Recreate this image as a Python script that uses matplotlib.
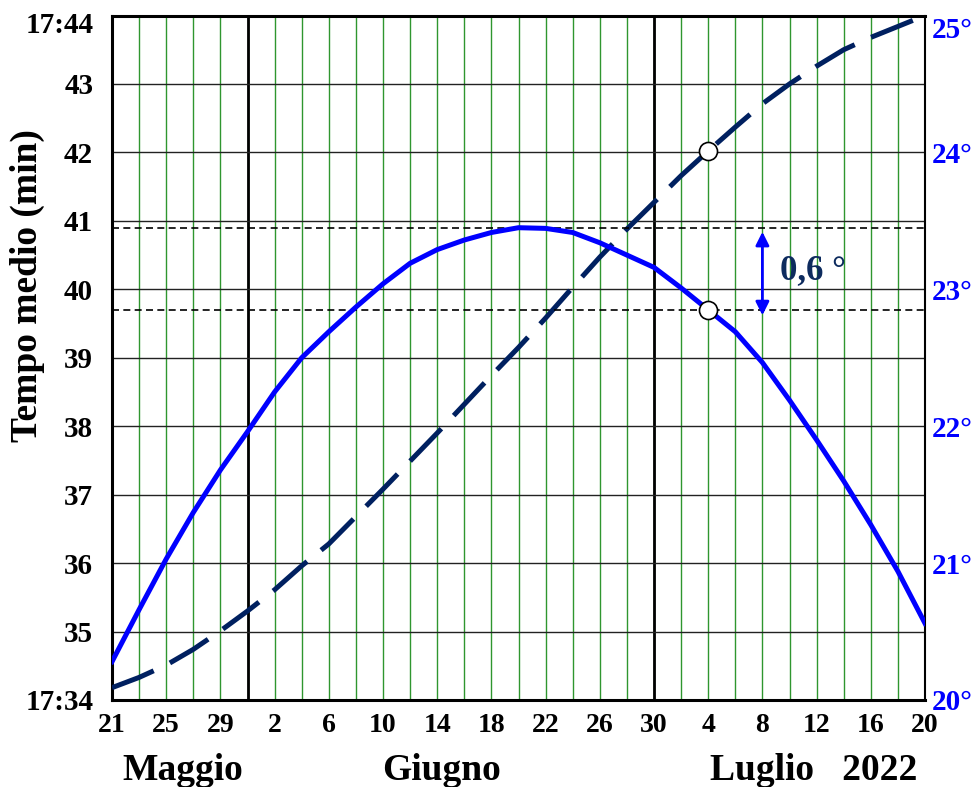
import matplotlib
matplotlib.use("Agg")
import matplotlib.pyplot as plt
import matplotlib.transforms as mtransforms
import numpy as np
import pandas as pd

plt.rcParams['font.family'] = ['Liberation Serif', 'DejaVu Serif']
plt.rcParams['font.weight'] = 'bold'

# dati (ogni 2 giorni, 21 maggio -> 20 luglio 2022)
dates = pd.date_range("2022-05-21", "2022-07-20", freq="2D")
declination = [20.28, 20.66, 21.03, 21.37, 21.68, 21.96, 22.25, 22.50, 22.69, 22.87,
               23.04, 23.19, 23.29, 23.36, 23.415, 23.45, 23.445, 23.415, 23.34, 23.25,
               23.16, 23.01, 22.85, 22.69, 22.465, 22.19, 21.90, 21.60, 21.28, 20.94, 20.56]
mean_time = [34.18, 34.33, 34.51, 34.74, 35.01, 35.30, 35.61, 35.96, 36.28, 36.68,
             37.08, 37.49, 37.90, 38.32, 38.74, 39.15, 39.58, 40.03, 40.47, 40.88,
             41.27, 41.66, 42.02, 42.37, 42.71, 43.00, 43.26, 43.50, 43.68, 43.84, 44.00]
min_ticks = list(range(34, 45))
min_labels = ['17:34', '35', '36', '37', '38', '39', '40', '41', '42', '43', '17:44']
deg_ticks = [20, 21, 22, 23, 24, 25]
deg_labels = ['20°', '21°', '22°', '23°', '24°', '25°']
month_ends = [pd.Timestamp("2022-05-31"), pd.Timestamp("2022-06-30")]
marked_day = pd.Timestamp("2022-07-04")
arrow_day = pd.Timestamp("2022-07-08")
months = ['Maggio', 'Giugno', 'Luglio   2022']
month_pos = [5.2, 24.3, 51.8]

start = dates[0]
x = np.array((dates - start).days)
idx = list(dates).index(marked_day)

fig = plt.figure(figsize=(9.77, 7.87), dpi=100)
ax = fig.add_axes([112/977, 1 - 700/787, 813/977, 684.5/787])
ax2 = ax.twinx()

ax.set_xlim(x[0], x[-1])
ax.set_ylim(34, 44)
ax2.set_ylim(20, 25)

# griglia
for xv in x[1:-1]:
    ax.axvline(xv, color='#2f962f', lw=1.0, zorder=0)
for me in month_ends:
    ax.axvline((me - start).days, color='black', lw=2.0, zorder=1)
for m in min_ticks[1:-1]:
    ax.axhline(m, color='#222222', lw=1.0, zorder=1)

# curve
dash_line, = ax.plot(x, mean_time, color='#002060', lw=3.6, zorder=3)
dash_line.set_dashes([9, 3.6])
dash_line.set_dash_capstyle('butt')
ax2.plot(x, declination, color='#0000ff', lw=3.6, zorder=3)

peak = max(declination)
val = declination[idx]
ax2.axhline(peak, color='black', lw=1.2, ls=(0, (4.2, 2.6)), zorder=2)
ax2.axhline(val, color='black', lw=1.2, ls=(0, (4.2, 2.6)), zorder=2)

ax.plot(x[idx], mean_time[idx], 'o', ms=13, mfc='white', mec='black', mew=1.2, zorder=6)
ax2.plot(x[idx], val, 'o', ms=13, mfc='white', mec='black', mew=1.2, zorder=6)

xa = (arrow_day - start).days
ax2.annotate('', xy=(xa, peak - 0.03), xytext=(xa, val - 0.04),
             arrowprops=dict(arrowstyle='<|-|>', color='#0000ff', lw=2,
                             mutation_scale=20, shrinkA=0, shrinkB=0))
diff_label = f"{peak - val:.1f}".replace('.', ',') + ' °'
ax2.text(xa + 1.3, (peak + val) / 2 - 0.01, diff_label, fontsize=25, color='#0d2b5e',
         ha='left', va='center', fontweight='bold')

# assi
ax.set_xticks(x[::2])
ax.set_xticklabels([str(d.day) for d in dates[::2]], fontsize=20)
ax.set_yticks(min_ticks)
ax.set_yticklabels(min_labels, fontsize=21)
ax.tick_params(axis='x', length=0, pad=9)
ax.tick_params(axis='y', length=0, pad=13.5)
ax2.set_yticks(deg_ticks)
ax2.set_yticklabels(deg_labels, fontsize=21, color='#0000ff')
ax2.tick_params(axis='y', length=0, pad=5)

# etichette in alto leggermente abbassate come nell'originale
for lab, dy in ((ax.get_yticklabels()[-1], -7), (ax2.get_yticklabels()[-1], -12)):
    lab.set_transform(lab.get_transform() +
                      mtransforms.ScaledTranslation(0, dy / 100, fig.dpi_scale_trans))

ax.set_ylabel('Tempo medio (min)', fontsize=27, fontweight='bold')
ax.yaxis.set_label_coords(-0.082, 0.606)

for s in ['left', 'top', 'bottom']:
    ax.spines[s].set_linewidth(2.2)
ax.spines['right'].set_visible(False)
for s in ['left', 'top', 'bottom']:
    ax2.spines[s].set_visible(False)
ax2.spines['right'].set_linewidth(1.5)

trans = mtransforms.blended_transform_factory(ax.transData, ax.transAxes)
for name, pos in zip(months, month_pos):
    ax.text(pos, -0.117, name, transform=trans, ha='center', va='baseline',
            fontsize=27, fontweight='bold')

fig.savefig('out.png', dpi=100)
